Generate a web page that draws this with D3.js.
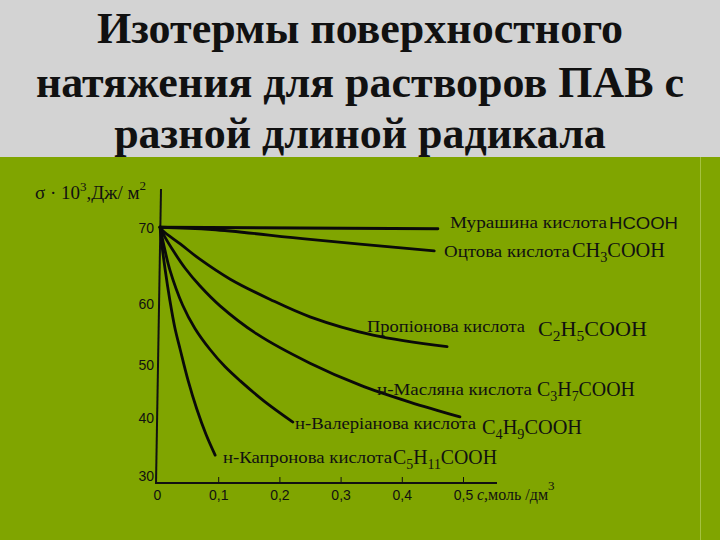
<!DOCTYPE html>
<html><head><meta charset="utf-8">
<script src="https://cdn.jsdelivr.net/npm/d3@7"></script>
<style>body{margin:0;padding:0;overflow:hidden;} svg{display:block;}</style>
</head><body>
<script>
// ---------------- data ----------------
const titleLines = ["Изотермы поверхностного", "натяжения для растворов ПАВ с", "разной длиной радикала"];
const acidNames = ["Мурашина кислота", "Оцтова кислота", "Пропіонова кислота", "н-Масляна кислота", "н-Валеріанова кислота", "н-Капронова кислота"];
const formulas = ["HCOOH", "CH3COOH", "C2H5COOH", "C3H7COOH", "C4H9COOH", "C5H11COOH"];
const xTicks = [0, 0.1, 0.2, 0.3, 0.4, 0.5];
const yTicks = [30, 40, 50, 60, 70];
// concentration c (моль/дм3) and surface tension σ·10³ (Дж/м²) for each acid
const cFormic = [0.005, 0.459];
const sFormic = [70.1, 69.9];
const cAcetic = [0.005, 0.09, 0.25, 0.453];
const sAcetic = [70.1, 69.8, 68.5, 67.0];
const cPropionic = [0.005, 0.010, 0.038, 0.070, 0.119, 0.185, 0.250, 0.353, 0.474];
const sPropionic = [70.1, 69.6, 67.9, 65.9, 63.3, 60.6, 57.9, 54.9, 53.0];
const cButyric = [0.005, 0.008, 0.013, 0.025, 0.046, 0.070, 0.103, 0.163, 0.250, 0.332, 0.413, 0.495];
const sButyric = [70.1, 69.6, 68.8, 67.2, 64.7, 62.4, 59.7, 55.1, 50.3, 46.2, 43.0, 40.2];
const cValeric = [0.005, 0.011, 0.021, 0.042, 0.062, 0.087, 0.111, 0.136, 0.176, 0.222];
const sValeric = [70.1, 67.8, 64.5, 59.8, 56.0, 52.5, 49.7, 47.0, 43.1, 39.3];
const cCaproic = [0.005, 0.008, 0.013, 0.021, 0.029, 0.038, 0.051, 0.065, 0.080, 0.095];
const sCaproic = [70.1, 67.8, 64.7, 60.5, 56.2, 52.5, 47.0, 41.7, 37.2, 33.6];

const seriesC = [cFormic, cAcetic, cPropionic, cButyric, cValeric, cCaproic];
const seriesS = [sFormic, sAcetic, sPropionic, sButyric, sValeric, sCaproic];

// ---------------- layout (annotation placement, not data) ----------------
const W = 720, H = 540;
const labelLayout = [
  {nx: 450, ny: 228, nw: 157, fx: 609, fy: 229, fw: 69, sans: true},
  {nx: 444, ny: 257, nw: 126, fx: 572, fy: 257, fw: 93},
  {nx: 367, ny: 332, nw: 158, fx: 538, fy: 336, fw: 109},
  {nx: 377, ny: 395, nw: 155, fx: 537, fy: 396, fw: 98},
  {nx: 295, ny: 429, nw: 181, fx: 482, fy: 434, fw: 100},
  {nx: 223, ny: 463, nw: 169, fx: 393, fy: 464, fw: 104}
];

const svg = d3.select("body").append("svg").attr("width", W).attr("height", H);

svg.append("rect").attr("width", W).attr("height", H).attr("fill", "#80a500");
svg.append("rect").attr("width", W).attr("height", 157).attr("fill", "#d3d3d3");
svg.append("line").attr("x1", 700.5).attr("x2", 700.5).attr("y1", 157).attr("y2", H)
  .attr("stroke", "#b5cf5a").attr("stroke-width", 1).attr("opacity", 0.7);

// title
const titleBase = [43, 97, 148];
svg.append("g").selectAll("text").data(titleLines).join("text")
  .attr("x", 360).attr("y", (d, i) => titleBase[i])
  .attr("text-anchor", "middle")
  .attr("font-family", "'Liberation Serif','Times New Roman',serif")
  .attr("font-weight", "bold").attr("font-size", 44)
  .attr("fill", "#111").text(d => d);

// scales
const x = d3.scaleLinear().domain([0, 0.5]).range([157, 463]);
const y = d3.scaleLinear().domain([30, 40, 50, 60, 70]).range([476, 418, 365, 304, 228]);

// axes
const xAxisY = 483;
const xAxis = d3.axisBottom(x).tickValues(xTicks)
  .tickFormat(d => d === 0 ? "0" : d3.format(".1f")(d).replace(".", ","))
  .tickSizeInner(-6).tickSizeOuter(0).tickPadding(7);
const gx = svg.append("g").attr("transform", `translate(0,${xAxisY})`).call(xAxis);
gx.select(".domain").remove();
gx.selectAll(".tick line").attr("stroke", "#111").attr("stroke-width", 1);
gx.selectAll(".tick line").filter(d => d === 0).remove();
gx.selectAll("text").attr("font-family", "'Liberation Sans',Arial,sans-serif")
  .attr("font-size", 14).attr("fill", "#111");

const yAxis = d3.axisLeft(y).tickValues(yTicks).tickSize(0).tickPadding(4);
const gy = svg.append("g").attr("transform", "translate(158,0)").call(yAxis);
gy.select(".domain").remove();
gy.selectAll("text").attr("font-family", "'Liberation Sans',Arial,sans-serif")
  .attr("font-size", 14).attr("fill", "#111");

// axis lines
svg.append("line").attr("x1", 161).attr("y1", 189).attr("x2", 156).attr("y2", 484)
  .attr("stroke", "#111").attr("stroke-width", 2);
svg.append("line").attr("x1", 156).attr("y1", xAxisY).attr("x2", 497).attr("y2", xAxisY)
  .attr("stroke", "#111").attr("stroke-width", 2);

// axis titles
const yTitle = svg.append("text").attr("x", 35).attr("y", 199)
  .attr("font-family", "'Liberation Serif','Times New Roman',serif")
  .attr("font-size", 19).attr("fill", "#111");
yTitle.append("tspan").text("σ · 10");
yTitle.append("tspan").attr("dy", -8).attr("font-size", 13).text("3");
yTitle.append("tspan").attr("dy", 8).text(",Дж/ м");
yTitle.append("tspan").attr("dy", -9).attr("font-size", 13).text("2");

const xTitle = svg.append("text").attr("x", 477).attr("y", 500)
  .attr("font-family", "'Liberation Serif','Times New Roman',serif")
  .attr("font-size", 16).attr("fill", "#111");
xTitle.append("tspan").attr("font-style", "italic").text("с,");
xTitle.append("tspan").text("моль /дм");
xTitle.append("tspan").attr("dy", -10).attr("font-size", 13).text("3");

// curves
const line = d3.line().x(d => x(d[0])).y(d => y(d[1])).curve(d3.curveCatmullRom.alpha(0.5));
svg.append("g").selectAll("path")
  .data(seriesC.map((cs, i) => cs.map((c, j) => [c, seriesS[i][j]])))
  .join("path")
  .attr("d", line)
  .attr("fill", "none").attr("stroke", "#0a0a0a").attr("stroke-width", 2.8)
  .attr("stroke-linecap", "round").attr("stroke-linejoin", "round");

// labels
const lg = svg.append("g");
acidNames.forEach((name, i) => {
  const L = labelLayout[i];
  lg.append("text").attr("x", L.nx).attr("y", L.ny)
    .attr("font-family", "'Liberation Serif','Times New Roman',serif")
    .attr("font-size", 17).attr("fill", "#111")
    .attr("textLength", L.nw).attr("lengthAdjust", "spacingAndGlyphs")
    .text(name);
  const f = lg.append("text").attr("x", L.fx).attr("y", L.fy)
    .attr("font-family", L.sans ? "'Liberation Sans',Arial,sans-serif" : "'Liberation Serif','Times New Roman',serif")
    .attr("font-size", L.sans ? 17 : 20).attr("fill", "#111")
    .attr("textLength", L.fw).attr("lengthAdjust", "spacingAndGlyphs");
  const parts = formulas[i].match(/[A-Z]+|\d+/g);
  let sub = false;
  parts.forEach(p => {
    const isNum = /\d/.test(p);
    const t = f.append("tspan").text(p);
    if (isNum && !sub) { t.attr("dy", 5).attr("font-size", 14); sub = true; }
    else if (isNum) { t.attr("font-size", 14); }
    else if (sub) { t.attr("dy", -5); sub = false; }
  });
});
</script>
</body></html>
